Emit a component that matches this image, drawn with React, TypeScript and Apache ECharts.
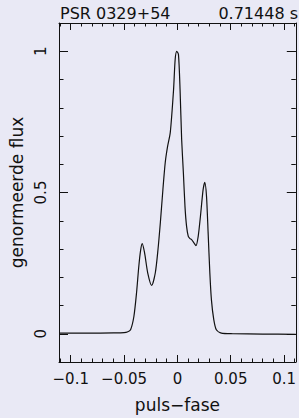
import React, { useEffect, useRef } from "react";
import * as echarts from "echarts";

const phase = [-0.111, -0.08, -0.06, -0.05, -0.047, -0.0439, -0.0408, -0.0383, -0.0362, -0.0345, -0.033, -0.0308, -0.0278, -0.0241, -0.0207, -0.0182, -0.016, -0.0136, -0.0114, -0.0092, -0.0067, -0.0036, -0.0021, -0.0006, 0.001, 0.0025, 0.004, 0.0056, 0.0071, 0.0086, 0.0102, 0.0118, 0.0133, 0.0155, 0.0174, 0.0195, 0.0216, 0.0241, 0.0257, 0.0273, 0.0288, 0.0304, 0.0319, 0.0341, 0.0365, 0.0412, 0.052, 0.08, 0.111];
const flux = [0.002, 0.002, 0.003, 0.004, 0.006, 0.014, 0.061, 0.145, 0.238, 0.295, 0.319, 0.287, 0.215, 0.171, 0.216, 0.298, 0.393, 0.51, 0.606, 0.663, 0.712, 0.864, 0.971, 1.0, 0.988, 0.864, 0.687, 0.57, 0.451, 0.38, 0.345, 0.337, 0.333, 0.322, 0.312, 0.345, 0.416, 0.51, 0.536, 0.486, 0.358, 0.216, 0.12, 0.05, 0.014, 0.002, 0.0, -0.001, -0.002];

const xMajor = [-0.1, -0.05, 0, 0.05, 0.1];
const xMinor = [-0.11, -0.1, -0.09, -0.08, -0.07, -0.06, -0.05, -0.04, -0.03, -0.02, -0.01, 0, 0.01, 0.02, 0.03, 0.04, 0.05, 0.06, 0.07, 0.08, 0.09, 0.1, 0.11];
const yMajor = [0, 0.5, 1];
const yMinor = [0, 0.1, 0.2, 0.3, 0.4, 0.5, 0.6, 0.7, 0.8, 0.9, 1];

const titleLeft = "PSR 0329+54";
const titleRight = "0.71448 s";
const xName = "puls\u2212fase";
const yName = "genormeerde flux";

const FONT = "DejaVu Sans";
const INK = "#111";
const BG = "#e9e9f5";

export default function App() {
  const ref = useRef<HTMLDivElement>(null);
  useEffect(() => {
    if (!ref.current) return;
    const chart = echarts.init(ref.current, null, { renderer: "svg" });
    const xRange = { min: -0.111, max: 0.111 };
    const yRange = { min: -0.1, max: 1.1 };
    const fmt = (v: number) => (v < 0 ? "\u2212" + String(-v) : String(v));
    const lineStyle = { color: INK, width: 1 };
    const mkX = (pos: "top" | "bottom", values: number[], len: number, line: boolean, labels: boolean, name?: string) => ({
      type: "value",
      position: pos,
      ...xRange,
      axisLine: { show: line, onZero: false, lineStyle },
      axisTick: { show: true, inside: true, length: len, customValues: values, lineStyle },
      axisLabel: labels
        ? { show: true, customValues: xMajor, formatter: fmt, color: INK, fontFamily: FONT, fontSize: 15, margin: 9 }
        : { show: false },
      splitLine: { show: false },
      name: name || "",
      nameLocation: "middle",
      nameGap: 34,
      nameTextStyle: { color: INK, fontFamily: FONT, fontSize: 17 },
    });
    const mkY = (pos: "left" | "right", values: number[], len: number, line: boolean, labels: boolean, name?: string) => ({
      type: "value",
      position: pos,
      ...yRange,
      axisLine: { show: line, onZero: false, lineStyle },
      axisTick: { show: true, inside: true, length: len, customValues: values, lineStyle },
      axisLabel: labels
        ? { show: true, customValues: yMajor, rotate: 90, color: INK, fontFamily: FONT, fontSize: 15, margin: 11, formatter: (v: number) => String(v) }
        : { show: false },
      splitLine: { show: false },
      name: name || "",
      nameLocation: "middle",
      nameRotate: 90,
      nameGap: 33,
      nameTextStyle: { color: INK, fontFamily: FONT, fontSize: 17 },
    });
    chart.setOption({
      animation: false,
      backgroundColor: BG,
      grid: { left: 59, top: 23, width: 239, height: 339, containLabel: false },
      graphic: [
        { type: "text", left: 60, top: 5, style: { text: titleLeft, fill: INK, font: `16px "${FONT}"` } },
        { type: "text", right: 1, top: 5, style: { text: titleRight, fill: INK, font: `16px "${FONT}"` } },
      ],
      xAxis: [
        mkX("bottom", xMajor, 7, true, true, xName),
        mkX("bottom", xMinor, 3.5, false, false),
        mkX("top", xMajor, 7, true, false),
        mkX("top", xMinor, 3.5, false, false),
      ],
      yAxis: [
        mkY("left", yMajor, 9, true, true, yName),
        mkY("left", yMinor, 4.5, false, false),
        mkY("right", yMajor, 9, true, false),
        mkY("right", yMinor, 4.5, false, false),
      ],
      series: [
        {
          type: "line",
          xAxisIndex: 0,
          yAxisIndex: 0,
          data: phase.map((p, i) => [p, flux[i]]),
          smooth: 0.25,
          showSymbol: false,
          lineStyle: { color: INK, width: 1.2 },
        },
      ],
    });
    return () => chart.dispose();
  }, []);
  return <div ref={ref} style={{ position: "absolute", left: 0, top: 0, width: 299, height: 418 }} />;
}
